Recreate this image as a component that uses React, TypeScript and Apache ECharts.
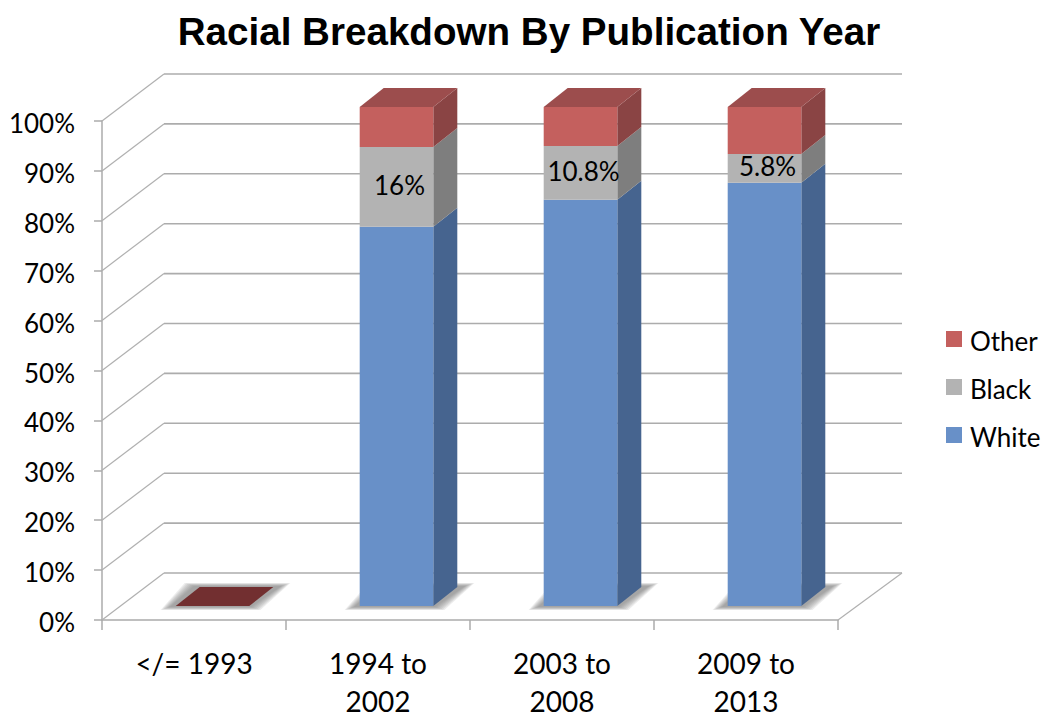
import React, { useEffect, useRef } from "react";
import * as echarts from "echarts";

const categories = ["</= 1993", "1994 to\n2002", "2003 to\n2008", "2009 to\n2013"];
const whiteValues = [0, 76, 81.4, 84.8];
const blackValues = [0, 16, 10.8, 5.8];
const otherValues = [0, 8, 7.8, 9.4];
const blackLabels = ["", "16%", "10.8%", "5.8%"];
const yTicks = [0, 10, 20, 30, 40, 50, 60, 70, 80, 90, 100];
const titleText = "Racial Breakdown By Publication Year";

const FONT = "Lato, 'Open Sans', sans-serif";
const WALL_DX = 62;
const WALL_DY = 47;
const BAR_SHIFT_X = 18.5;
const BAR_SHIFT_Y = 14;
const BAR_RATIO = 0.4;
const SIDE_DX = 24;
const SIDE_DY = 19;
const SHADOW_LAYERS = [6, 5, 4, 3, 2, 1, 0];

const faces = {
  White: { front: "#6890c8", side: "#46648f", top: "#6890c8" },
  Black: { front: "#b3b3b3", side: "#7e7e7e", top: "#b3b3b3" },
  Other: { front: "#c4605e", side: "#8a4444", top: "#9c4d4d" },
};
const FLAT_TOP = "#722f30";

function stackedRows(values: number[], below: number[][]) {
  return values.map((v, i) => {
    const low = below.reduce((s, arr) => s + arr[i], 0);
    return [i, low, low + v];
  });
}

function barGeometry(api: any, cat: number, value: number) {
  const p = api.coord([cat, value]);
  const w = api.size([1, 0])[0] * BAR_RATIO;
  return { l: p[0] + BAR_SHIFT_X - w / 2, r: p[0] + BAR_SHIFT_X + w / 2, y: p[1] - BAR_SHIFT_Y };
}

function makeSegment(name: "White" | "Black" | "Other", isTop: boolean, labels?: string[]) {
  const c = faces[name];
  return (params: any, api: any) => {
    const cat = api.value(0);
    const lo = barGeometry(api, cat, api.value(1));
    const hi = barGeometry(api, cat, api.value(2));
    const children: any[] = [];
    if (hi.y < lo.y) {
      children.push({
        type: "polygon",
        shape: { points: [[lo.r, lo.y], [lo.r + SIDE_DX, lo.y - SIDE_DY], [hi.r + SIDE_DX, hi.y - SIDE_DY], [hi.r, hi.y]] },
        style: { fill: c.side },
      });
      children.push({
        type: "rect",
        shape: { x: lo.l, y: hi.y, width: lo.r - lo.l, height: lo.y - hi.y },
        style: { fill: c.front },
      });
    }
    if (isTop) {
      children.push({
        type: "polygon",
        shape: { points: [[hi.l, hi.y], [hi.l + SIDE_DX, hi.y - SIDE_DY], [hi.r + SIDE_DX, hi.y - SIDE_DY], [hi.r, hi.y]] },
        style: { fill: api.value(2) === 0 ? FLAT_TOP : c.top },
      });
    }
    const label = labels ? labels[cat] : "";
    if (label) {
      children.push({
        type: "text",
        style: {
          text: label,
          x: (lo.l + lo.r) / 2 + 3,
          y: (lo.y + hi.y) / 2 - 2,
          fill: "#000",
          font: `26px ${FONT}`,
          align: "center",
          verticalAlign: "middle",
        },
      });
    }
    return { type: "group", children };
  };
}

function renderWall(params: any, api: any) {
  const cs = params.coordSys;
  const y = api.coord([0, api.value(0)])[1];
  const isFloor = api.value(0) === 0;
  const backRight = cs.x + cs.width + WALL_DX + 2;
  const children: any[] = [
    {
      type: "polyline",
      shape: { points: [[cs.x, y], [cs.x + WALL_DX, y - WALL_DY]] },
      style: { stroke: "#b0b0b0", lineWidth: 1.2, fill: "none" },
    },
    {
      type: "polyline",
      shape: { points: [[cs.x + WALL_DX, y - WALL_DY], [backRight, y - WALL_DY]] },
      style: { stroke: "#acacac", lineWidth: 1.6, fill: "none" },
    },
  ];
  if (isFloor) {
    children.push({
      type: "polyline",
      shape: { points: [[backRight, y - WALL_DY], [cs.x + cs.width, y]] },
      style: { stroke: "#b0b0b0", lineWidth: 1.2, fill: "none" },
    });
  }
  return { type: "group", children };
}

function renderShadow(params: any, api: any) {
  const g = barGeometry(api, api.value(0), 0);
  return {
    type: "group",
    children: SHADOW_LAYERS.map((e) => ({
      type: "polygon",
      shape: {
        points: [
          [g.l - 6 - 1.5 * e, g.y + 1 + 0.5 * e],
          [g.l + SIDE_DX - 6 - 1.5 * e, g.y - SIDE_DY - 1 - 0.5 * e],
          [g.r + SIDE_DX + 8 + 1.5 * e, g.y - SIDE_DY - 1 - 0.5 * e],
          [g.r + 2 + 1.5 * e, g.y + 1 + 0.5 * e],
        ],
      },
      style: { fill: "#787878", opacity: 0.14 },
    })),
  };
}

const whiteRows = stackedRows(whiteValues, []);
const blackRows = stackedRows(blackValues, [whiteValues]);
const otherRows = stackedRows(otherValues, [whiteValues, blackValues]);

function segmentSeries(name: "White" | "Black" | "Other", rows: number[][], isTop: boolean, z: number, labels?: string[]) {
  return {
    type: "custom",
    name,
    z,
    silent: true,
    clip: false,
    itemStyle: { color: faces[name].front },
    encode: { x: 0, y: [1, 2] },
    data: rows,
    renderItem: makeSegment(name, isTop, labels),
  };
}

export default function App() {
  const ref = useRef<HTMLDivElement>(null);
  useEffect(() => {
    const chart = echarts.init(ref.current!, undefined, { renderer: "svg" });
    chart.setOption({
      animation: false,
      backgroundColor: "#fff",
      title: {
        text: titleText,
        left: 524,
        top: 7,
        textAlign: "center",
        textStyle: { fontFamily: "'Liberation Sans', Arial, sans-serif", fontWeight: "bold", fontSize: 38.6, color: "#000" },
      },
      grid: { left: 102, right: 212, top: 121, bottom: 100, outerBoundsMode: "none" },
      legend: {
        orient: "vertical",
        left: 941,
        top: 323,
        icon: "rect",
        itemWidth: 16,
        itemHeight: 16,
        itemGap: 22,
        data: ["Other", "Black", "White"],
        selectedMode: false,
        formatter: "{a|{name}}",
        textStyle: {
          fontFamily: FONT,
          fontSize: 26,
          color: "#000",
          rich: { a: { fontFamily: FONT, fontSize: 26, color: "#000", padding: [4, 0, 0, 3] } },
        },
      },
      xAxis: {
        type: "category",
        data: categories,
        axisLine: { lineStyle: { color: "#ababab", width: 1.5 } },
        axisTick: { show: true, alignWithLabel: false, length: 10, lineStyle: { color: "#ababab", width: 1.5 } },
        axisLabel: { fontFamily: FONT, fontSize: 28, color: "#000", margin: 24, lineHeight: 38, interval: 0 },
      },
      yAxis: {
        type: "value",
        min: 0,
        max: 100,
        interval: 10,
        splitLine: { show: false },
        axisLine: { show: true, lineStyle: { color: "#ababab", width: 1.5 } },
        axisTick: { show: true, length: 8, lineStyle: { color: "#ababab", width: 1.5 } },
        axisLabel: {
          fontFamily: FONT,
          fontSize: 26,
          color: "#000",
          margin: 27,
          formatter: "{a|{value}%}",
          rich: { a: { fontFamily: FONT, fontSize: 26, color: "#000", padding: [4, 0, 0, 0] } },
        },
      },
      series: [
        {
          type: "custom",
          z: 1,
          silent: true,
          clip: false,
          encode: { y: 0 },
          data: yTicks.map((v) => [v]),
          renderItem: renderWall,
        },
        {
          type: "custom",
          z: 2,
          silent: true,
          clip: false,
          encode: { x: 0, y: 1 },
          data: categories.map((_, i) => [i, 0]),
          renderItem: renderShadow,
        },
        segmentSeries("White", whiteRows, false, 3),
        segmentSeries("Black", blackRows, false, 4, blackLabels),
        segmentSeries("Other", otherRows, true, 5),
      ],
    });
    return () => chart.dispose();
  }, []);
  return <div ref={ref} style={{ position: "absolute", left: 0, top: 0, width: 1050, height: 720 }} />;
}
